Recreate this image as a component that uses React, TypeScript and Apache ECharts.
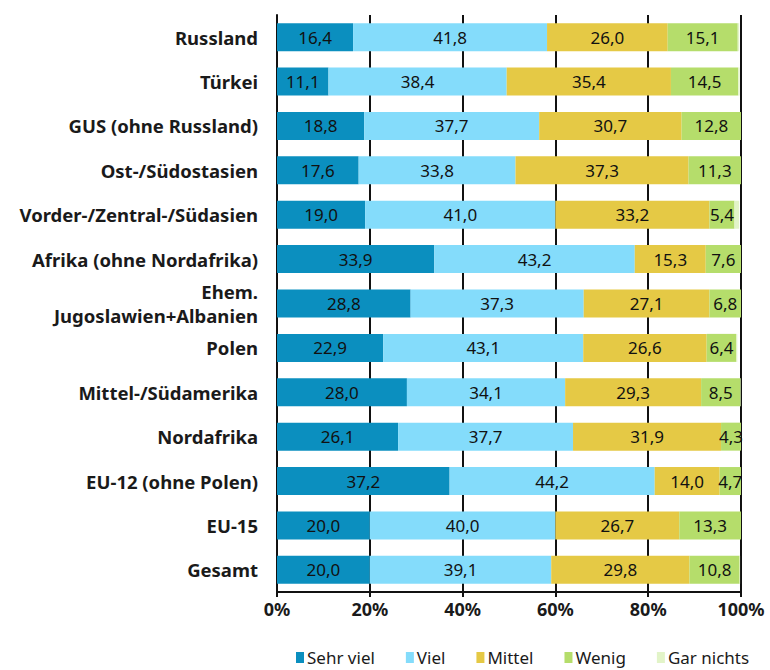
import React, { useEffect, useRef } from "react";
import * as echarts from "echarts";

const categories = [
  "Russland",
  "Türkei",
  "GUS (ohne Russland)",
  "Ost-/Südostasien",
  "Vorder-/Zentral-/Südasien",
  "Afrika (ohne Nordafrika)",
  "Ehem.\nJugoslawien+Albanien",
  "Polen",
  "Mittel-/Südamerika",
  "Nordafrika",
  "EU-12 (ohne Polen)",
  "EU-15",
  "Gesamt",
];

const sehrViel = [16.4, 11.1, 18.8, 17.6, 19.0, 33.9, 28.8, 22.9, 28.0, 26.1, 37.2, 20.0, 20.0];
const viel = [41.8, 38.4, 37.7, 33.8, 41.0, 43.2, 37.3, 43.1, 34.1, 37.7, 44.2, 40.0, 39.1];
const mittel = [26.0, 35.4, 30.7, 37.3, 33.2, 15.3, 27.1, 26.6, 29.3, 31.9, 14.0, 26.7, 29.8];
const wenig = [15.1, 14.5, 12.8, 11.3, 5.4, 7.6, 6.8, 6.4, 8.5, 4.3, 4.7, 13.3, 10.8];
const garNichts = [0.3, 0.3, 0, 0, 1.0, 0, 0, 0.2, 0.1, 0, 0, 0, 0.1];

const seriesNames = ["Sehr viel", "Viel", "Mittel", "Wenig", "Gar nichts"];
const seriesData = [sehrViel, viel, mittel, wenig, garNichts];
const colors = ["#0b8fbf", "#84dcfb", "#e5c945", "#b5dd6b", "#e2f4c8"];
const xTicks = [0, 20, 40, 60, 80, 100];

const FONT = "'Noto Sans', 'Open Sans', sans-serif";

export default function App() {
  const ref = useRef<HTMLDivElement>(null);
  useEffect(() => {
    if (!ref.current) return;
    const chart = echarts.init(ref.current, undefined, { renderer: "svg" });
    chart.setOption({
      animation: false,
      textStyle: { fontFamily: FONT },
      grid: { left: 277, right: 29, top: 15, bottom: 78, containLabel: false },
      legend: {
        top: 644,
        left: 291,
        itemWidth: 8,
        itemHeight: 11,
        itemGap: 31,
        icon: "rect",
        textStyle: { fontSize: 17, color: "#1a1a1a", fontFamily: FONT, padding: [0, 0, 0, -2] },
        data: seriesNames,
      },
      xAxis: {
        type: "value",
        min: 0,
        max: 100,
        interval: 20,
        axisLine: { show: true, lineStyle: { color: "#111", width: 2 } },
        axisTick: { show: true, length: 5, lineStyle: { color: "#111", width: 2 } },
        splitLine: { show: true, lineStyle: { color: "#111", width: 2 } },
        axisLabel: {
          formatter: (v: number) => (xTicks.includes(v) ? v + "%" : ""),
          fontSize: 18,
          fontWeight: "bold",
          color: "#1a1a1a",
          margin: 8,
          fontFamily: FONT,
        },
      },
      yAxis: {
        type: "category",
        inverse: true,
        data: categories,
        axisLine: { show: true, lineStyle: { color: "#111", width: 2 } },
        axisTick: { show: false },
        axisLabel: {
          fontSize: 18.5,
          fontWeight: "bold",
          color: "#1a1a1a",
          margin: 19,
          lineHeight: 24,
          align: "right",
          fontFamily: FONT,
        },
      },
      series: seriesNames.map((name, i) => ({
        name,
        type: "bar",
        stack: "total",
        barWidth: 28,
        itemStyle: { color: colors[i] },
        label: {
          show: i < 4,
          position: "inside",
          color: "#111",
          fontSize: 17,
          fontFamily: FONT,
          formatter: (p: any) => p.value.toFixed(1).replace(".", ","),
        },
        data: seriesData[i],
      })),
    });
    return () => chart.dispose();
  }, []);
  return (
    <div
      ref={ref}
      style={{ position: "fixed", left: 0, top: 0, width: 770, height: 670, background: "#fff" }}
    />
  );
}
